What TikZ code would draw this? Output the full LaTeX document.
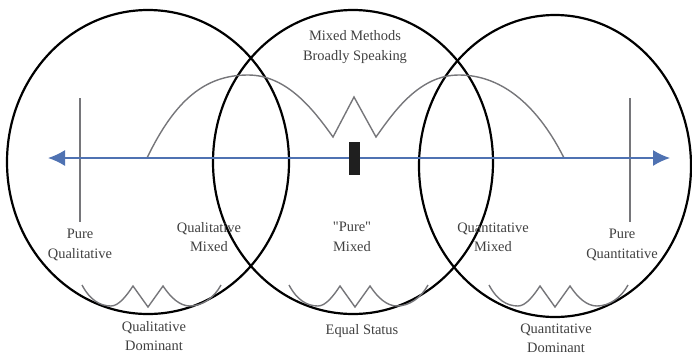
\documentclass[tikz,border=0pt]{standalone}
\usepackage{fontspec}
\setmainfont{Liberation Serif}[Ligatures=TeXOff]
\usetikzlibrary{arrows.meta}
\definecolor{axisblue}{RGB}{79,114,178}
\definecolor{curvegray}{RGB}{118,118,122}
\definecolor{textgray}{RGB}{64,64,64}

\begin{document}
\begin{tikzpicture}[x=1bp,y=-1bp,>={Latex[length=17bp,width=16bp]},
  ring/.style={draw=black,line width=2.2bp},
  wave/.style={draw=curvegray,line width=1.4bp},
  axis/.style={draw=axisblue,line width=1.5bp},
  lbl/.style={font=\fontsize{14.5}{19.5}\selectfont,text=textgray,align=center,inner sep=0pt}]
\useasboundingbox (0,0) rectangle (692,357);
% the three approaches
\draw[ring] (148,162) ellipse [x radius=141, y radius=152];
\draw[ring] (353,162) ellipse [x radius=140, y radius=152];
\draw[ring] (555,166) ellipse [x radius=136, y radius=151];
% continuum
\coordinate (qualTop) at (80,98);
\coordinate (qualBot) at (80,222);
\coordinate (quantTop) at (630,98);
\coordinate (quantBot) at (630,222);
\draw[wave] (qualTop) -- (qualBot);
\draw[wave] (quantTop) -- (quantBot);
\draw[wave] (147,158) .. controls (175,100) and (205,75) .. (248,75)
  .. controls (288,75) and (315,112) .. (333,137) -- (354,97) -- (376,137)
  .. controls (395,110) and (420,75) .. (459,75)
  .. controls (505,75) and (540,110) .. (564,158);
\coordinate (qualEnd) at (48,158);
\coordinate (quantEnd) at (670,158);
\draw[axis,<->] (qualEnd) -- (quantEnd);
\node[fill=black!88,minimum width=11bp,minimum height=33bp,inner sep=0pt] (centre) at (354.5,158.5) {};
% dominance curves
\foreach \cx in {148,355,555}
  \draw[wave,shift={(\cx,0)}] (-66,285) .. controls (-58,300) and (-48,306) .. (-37,306)
    .. controls (-29,306) and (-21,295) .. (-15,286) -- (0,307) -- (15,286)
    .. controls (23,298) and (32,306) .. (42,306) .. controls (54,306) and (66,298) .. (73,285);
% labels
\node[lbl] (broad) at (355,47) {Mixed Methods\\Broadly Speaking};
\node[lbl] (pureQual) at (80,245) {Pure\\Qualitative};
\node[lbl] (qualMixed) at (209,237) {Qualitative\\Mixed};
\node[lbl] (pureMixed) at (352,237) {"Pure"\\Mixed};
\node[lbl] (quantMixed) at (493,237) {Quantitative\\Mixed};
\node[lbl] (pureQuant) at (622,245) {Pure\\Quantitative};
\node[lbl] (qualDom) at (154,336) {Qualitative\\Dominant};
\node[lbl] (equal) at (362,331) {Equal Status};
\node[lbl] (quantDom) at (556,338) {Quantitative\\Dominant};
\end{tikzpicture}
\end{document}
